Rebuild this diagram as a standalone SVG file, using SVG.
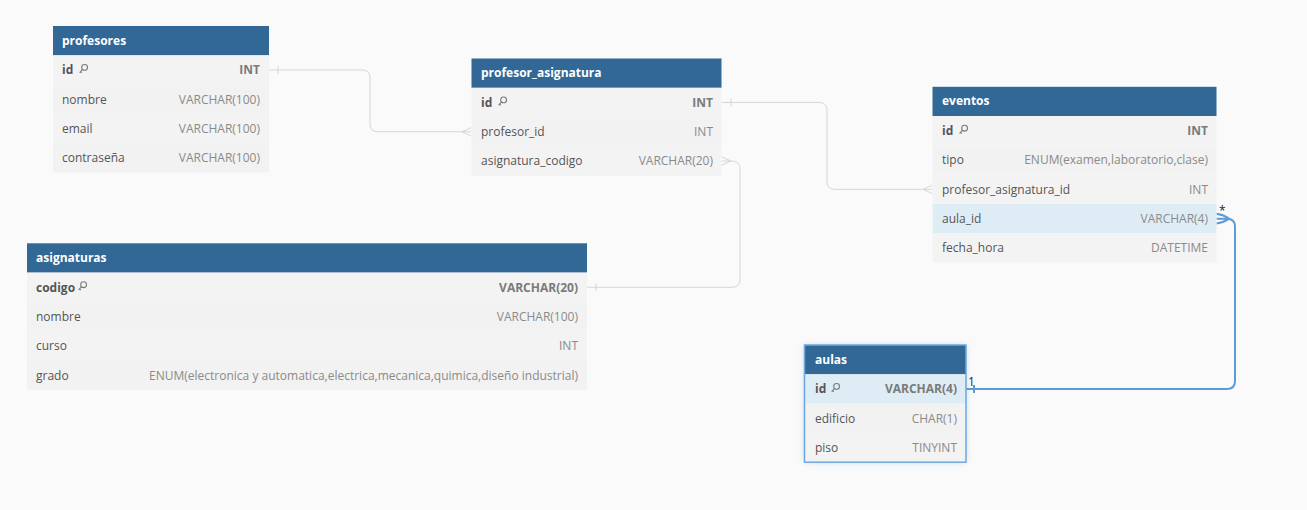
<svg xmlns="http://www.w3.org/2000/svg" xmlns:xlink="http://www.w3.org/1999/xlink" width="1307" height="510" viewBox="0 0 1307 510">
<style>
.hdr{fill:#316896}
.r0{fill:#f3f3f3}
.r1{fill:#f2f2f2}
.hl{fill:#deedf5}
.ht{font-family:"Open Sans","Liberation Sans",sans-serif;font-size:12px;font-weight:bold;fill:#ffffff}
.fn{font-family:"Open Sans","Liberation Sans",sans-serif;font-size:12px;fill:#555555}
.fk{font-family:"Open Sans","Liberation Sans",sans-serif;font-size:12px;font-weight:bold;fill:#555555}
.ty{font-family:"Open Sans","Liberation Sans",sans-serif;font-size:12px;fill:#8a8a8a;text-anchor:end}
.tk{font-family:"Open Sans","Liberation Sans",sans-serif;font-size:12px;font-weight:bold;fill:#7a7a7a;text-anchor:end}
.lbl{font-family:"Open Sans","Liberation Sans",sans-serif;font-size:12px;fill:#222222}
.ln{fill:none;stroke:#d6d6d6;stroke-width:1}
.bl{fill:none;stroke:#5e9bd6;stroke-width:2}
</style>
<defs>
<g id="key"><circle cx="5.6" cy="3.4" r="2.9" fill="none" stroke="#7a7a7a" stroke-width="1.1"/><path d="M3.6,5.4 L0.6,8.6 M1.5,7.6 L2.8,8.9" fill="none" stroke="#7a7a7a" stroke-width="1.1"/></g>
<filter id="glow" x="-20%" y="-20%" width="140%" height="140%"><feDropShadow dx="0" dy="0" stdDeviation="3" flood-color="#5e9bd6" flood-opacity="0.35"/></filter>
</defs>
<rect width="1307" height="510" fill="#fafafa"/>

<g id="connectors">
<path class="ln" d="M269,70 H362 Q370,70 370,78 V123.75 Q370,131.75 378,131.75 H471.5"/>
<path class="ln" d="M278,66 V74"/>
<path class="ln" d="M462,131.75 L471.5,127.5 M462,131.75 L471.5,136"/>
<path class="ln" d="M721.5,102.45 H819 Q827,102.45 827,110.45 V181.35 Q827,189.35 835,189.35 H932.5"/>
<path class="ln" d="M731,98.45 V106.45"/>
<path class="ln" d="M923,189.35 L932.5,185.1 M923,189.35 L932.5,193.6"/>
<path class="ln" d="M721.5,161.05 H732 Q740,161.05 740,169.05 V279.25 Q740,287.25 732,287.25 H587"/>
<path class="ln" d="M731,161.05 L721.5,156.8 M731,161.05 L721.5,165.3"/>
<path class="ln" d="M596,283.25 V291.25"/>
<path class="bl" d="M1216.5,218.65 H1227 Q1235,218.65 1235,226.65 V381 Q1235,389 1227,389 H966"/>
<path class="bl" d="M1216.5,213.8 Q1224,215 1229,218.65 M1216.5,223.5 Q1224,222.3 1229,218.65"/>
<path class="bl" d="M974,385 V393" stroke-width="1.5"/>
<text class="lbl" x="1219" y="215">*</text>
<text class="lbl" x="968" y="386">1</text>
</g>

<g id="profesores">
<rect class="hdr" x="53" y="26" width="216" height="29.3"/>
<text class="ht" x="62" y="44.5">profesores</text>
<rect class="r0" x="53" y="55.3" width="216" height="29.3"/>
<rect class="r1" x="53" y="84.6" width="216" height="29.3"/>
<rect class="r0" x="53" y="113.9" width="216" height="29.3"/>
<rect class="r1" x="53" y="143.2" width="216" height="29.3"/>
<text class="fk" x="62" y="74.3">id</text><use href="#key" x="79" y="64"/>
<text class="tk" x="260" y="74.3">INT</text>
<text class="fn" x="62" y="103.6">nombre</text><text class="ty" x="260" y="103.6">VARCHAR(100)</text>
<text class="fn" x="62" y="132.9">email</text><text class="ty" x="260" y="132.9">VARCHAR(100)</text>
<text class="fn" x="62" y="162.2">contraseña</text><text class="ty" x="260" y="162.2">VARCHAR(100)</text>
</g>

<g id="profesor_asignatura">
<rect class="hdr" x="471.5" y="58.5" width="250" height="29.3"/>
<text class="ht" x="481" y="77">profesor_asignatura</text>
<rect class="r0" x="471.5" y="87.8" width="250" height="29.3"/>
<rect class="r1" x="471.5" y="117.1" width="250" height="29.3"/>
<rect class="r0" x="471.5" y="146.4" width="250" height="29.3"/>
<text class="fk" x="481" y="106.8">id</text><use href="#key" x="498" y="96.5"/>
<text class="tk" x="713" y="106.8">INT</text>
<text class="fn" x="481" y="136.1">profesor_id</text><text class="ty" x="713" y="136.1">INT</text>
<text class="fn" x="481" y="165.4">asignatura_codigo</text><text class="ty" x="713" y="165.4">VARCHAR(20)</text>
</g>

<g id="eventos">
<rect class="hdr" x="932.5" y="86.8" width="284" height="29.3"/>
<text class="ht" x="942" y="105.3">eventos</text>
<rect class="r0" x="932.5" y="116.1" width="284" height="29.3"/>
<rect class="r1" x="932.5" y="145.4" width="284" height="29.3"/>
<rect class="r0" x="932.5" y="174.7" width="284" height="29.3"/>
<rect class="hl" x="932.5" y="204" width="284" height="29.3"/>
<rect class="r0" x="932.5" y="233.3" width="284" height="29.3"/>
<text class="fk" x="942" y="135.1">id</text><use href="#key" x="959" y="124.8"/>
<text class="tk" x="1208" y="135.1">INT</text>
<text class="fn" x="942" y="164.4">tipo</text><text class="ty" x="1208" y="164.4">ENUM(examen,laboratorio,clase)</text>
<text class="fn" x="942" y="193.7">profesor_asignatura_id</text><text class="ty" x="1208" y="193.7">INT</text>
<text class="fn" x="942" y="223">aula_id</text><text class="ty" x="1208" y="223">VARCHAR(4)</text>
<text class="fn" x="942" y="252.3">fecha_hora</text><text class="ty" x="1208" y="252.3">DATETIME</text>
</g>

<g id="asignaturas">
<rect class="hdr" x="27" y="243.3" width="560" height="29.3"/>
<text class="ht" x="36" y="261.8">asignaturas</text>
<rect class="r0" x="27" y="272.6" width="560" height="29.3"/>
<rect class="r1" x="27" y="301.9" width="560" height="29.3"/>
<rect class="r0" x="27" y="331.2" width="560" height="29.3"/>
<rect class="r1" x="27" y="360.5" width="560" height="29.3"/>
<text class="fk" x="36" y="291.6">codigo</text><use href="#key" x="78" y="281.3"/>
<text class="tk" x="578" y="291.6">VARCHAR(20)</text>
<text class="fn" x="36" y="320.9">nombre</text><text class="ty" x="578" y="320.9">VARCHAR(100)</text>
<text class="fn" x="36" y="350.2">curso</text><text class="ty" x="578" y="350.2">INT</text>
<text class="fn" x="36" y="379.5">grado</text><text class="ty" x="578" y="379.5">ENUM(electronica y automatica,electrica,mecanica,quimica,diseño industrial)</text>
</g>

<g id="aulas">
<g filter="url(#glow)">
<rect x="804.5" y="345" width="161.5" height="117.2" fill="#f2f2f2"/>
</g>
<rect class="hdr" x="804.5" y="345" width="161.5" height="29.3"/>
<text class="ht" x="815" y="363.5">aulas</text>
<rect class="hl" x="804.5" y="374.3" width="161.5" height="29.3"/>
<rect class="r1" x="804.5" y="403.6" width="161.5" height="29.3"/>
<rect class="r0" x="804.5" y="432.9" width="161.5" height="29.3"/>
<text class="fk" x="815" y="393.3">id</text><use href="#key" x="831" y="383"/>
<text class="tk" x="957" y="393.3">VARCHAR(4)</text>
<text class="fn" x="815" y="422.6">edificio</text><text class="ty" x="957" y="422.6">CHAR(1)</text>
<text class="fn" x="815" y="451.9">piso</text><text class="ty" x="957" y="451.9">TINYINT</text>
<rect x="804.5" y="345" width="161.5" height="117.2" fill="none" stroke="#6fa6dc" stroke-width="1.5"/>
</g>
</svg>
